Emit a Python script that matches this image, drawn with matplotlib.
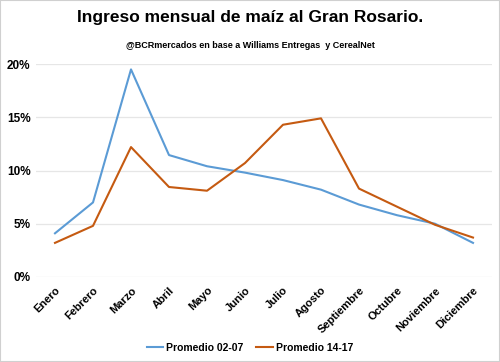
import matplotlib.pyplot as plt
from matplotlib.ticker import PercentFormatter

meses = ['Enero', 'Febrero', 'Marzo', 'Abril', 'Mayo', 'Junio', 'Julio',
         'Agosto', 'Septiembre', 'Octubre', 'Noviembre', 'Diciembre']
prom_02_07 = [4.1, 7.0, 19.5, 11.45, 10.4, 9.8, 9.1, 8.2, 6.8, 5.8, 5.0, 3.2]
prom_14_17 = [3.2, 4.8, 12.2, 8.45, 8.1, 10.7, 14.3, 14.9, 8.3, 6.6, 4.9, 3.7]

plt.rcParams['font.family'] = ['Liberation Sans', 'DejaVu Sans']
plt.rcParams['font.weight'] = 'bold'

fig = plt.figure(figsize=(5, 3.62), dpi=100)
ax = fig.add_axes([0.072, 0.235, 0.912, 0.588])

x = range(len(meses))
ax.plot(x, prom_02_07, color='#5B9BD5', lw=1.5, label='Promedio 02-07')
ax.plot(x, prom_14_17, color='#C55A11', lw=1.5, label='Promedio 14-17')

ax.set_ylim(0, 20)
ax.set_yticks([0, 5, 10, 15, 20])
ax.yaxis.set_major_formatter(PercentFormatter(decimals=0))
ax.set_xlim(-0.5, 11.5)
ax.set_xticks(list(x))
ax.set_xticklabels(meses, rotation=45, ha='right', rotation_mode='anchor')
ax.tick_params(axis='x', length=0, labelsize=8, pad=6)
ax.tick_params(axis='y', length=0, labelsize=8.5, pad=4)
ax.grid(axis='y', color='#e6e6e6', lw=0.9)
ax.set_axisbelow(True)
for s in ax.spines.values():
    s.set_visible(False)

fig.text(0.5, 0.952, 'Ingreso mensual de maíz al Gran Rosario.',
         ha='center', va='center', fontsize=12.5, weight='bold')
fig.text(0.5, 0.875, '@BCRmercados en base a Williams Entregas  y CerealNet',
         ha='center', va='center', fontsize=6.5, weight='bold')

fig.legend(loc='center', bbox_to_anchor=(0.5, 0.04), ncol=2, frameon=False,
           fontsize=7.5, handlelength=1.6, columnspacing=1.2, handletextpad=0.3)

fig.patches.append(plt.Rectangle((0, 0), 1, 1, transform=fig.transFigure,
                                 fill=False, edgecolor='#d0d0d0', lw=1.5))

fig.savefig('out.png', dpi=100)
